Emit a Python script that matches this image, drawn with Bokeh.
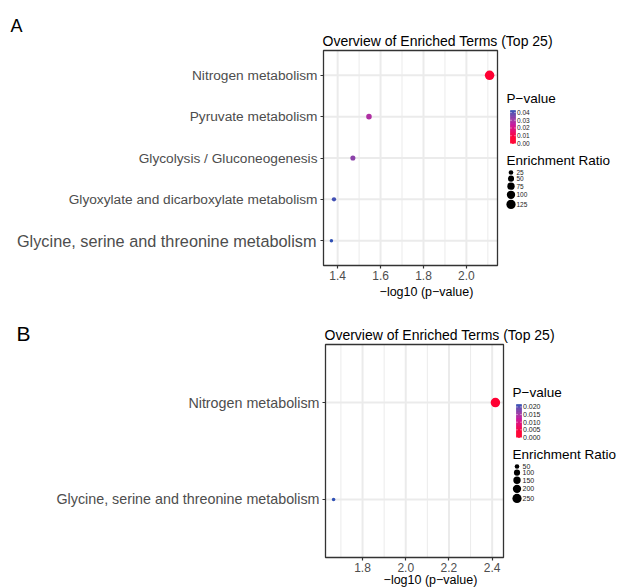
import numpy as np
from bokeh.plotting import figure
from bokeh.layouts import column
from bokeh.models import (Range1d, FixedTicker, BoxAnnotation, LinearColorMapper,
                          ColumnDataSource, PrintfTickFormatter)
from bokeh.core.properties import value
from bokeh.embed import file_html
from bokeh.resources import INLINE

FONT = "Liberation Sans"
TITLE = "Overview of Enriched Terms (Top 25)"
XLABEL = "\u2212log10 (p\u2212value)"

# ---------------- data: panel A ----------------
terms_a = ["Nitrogen metabolism", "Pyruvate metabolism", "Glycolysis / Gluconeogenesis",
           "Glyoxylate and dicarboxylate metabolism", "Glycine, serine and threonine metabolism"]
logp_a = [2.108, 1.546, 1.471, 1.383, 1.371]
ratio_a = [133, 40, 33, 22, 13]
xticks_a = [1.4, 1.6, 1.8, 2.0]
pbreaks_a = [0.00, 0.01, 0.02, 0.03, 0.04]
plabels_a = ["0.00", "0.01", "0.02", "0.03", "0.04"]
sbreaks_a = [25, 50, 75, 100, 125]

# ---------------- data: panel B ----------------
terms_b = ["Nitrogen metabolism", "Glycine, serine and threonine metabolism"]
logp_b = [2.415, 1.666]
ratio_b = [266, 25]
xticks_b = [1.8, 2.0, 2.2, 2.4]
pbreaks_b = [0.000, 0.005, 0.010, 0.015, 0.020]
plabels_b = ["0.000", "0.005", "0.010", "0.015", "0.020"]
sbreaks_b = [50, 100, 150, 200, 250]


# ---------------- colour helpers (Lab interpolation, like ggplot) ----------------
_M = np.array([[0.4124, 0.3576, 0.1805], [0.2126, 0.7152, 0.0722], [0.0193, 0.1192, 0.9505]])
_Mi = np.linalg.inv(_M)
_W = _M @ np.ones(3)


def _hex(h):
    return np.array([int(h[i:i + 2], 16) for i in (1, 3, 5)]) / 255.0


def _lin(c):
    return np.where(c <= 0.04045, c / 12.92, ((c + 0.055) / 1.055) ** 2.4)


def _gam(c):
    c = np.clip(c, 0, 1)
    return np.where(c <= 0.0031308, 12.92 * c, 1.055 * np.power(c, 1 / 2.4) - 0.055)


def _f(t):
    return np.where(t > (6 / 29) ** 3, np.cbrt(t), t / (3 * (6 / 29) ** 2) + 4 / 29)


def _finv(t):
    return np.where(t > 6 / 29, t ** 3, 3 * (6 / 29) ** 2 * (t - 4 / 29))


def _to_lab(h):
    fx, fy, fz = _f(_M @ _lin(_hex(h)) / _W)
    return np.array([116 * fy - 16, 500 * (fx - fy), 200 * (fy - fz)])


def _from_lab(lab):
    L, a, b = lab
    fy = (L + 16) / 116
    xyz = np.array([_finv(fy + a / 500), _finv(fy), _finv(fy - b / 200)]) * _W
    r, g, bb = (np.clip(_gam(_Mi @ xyz), 0, 1) * 255).round().astype(int)
    return f"#{r:02x}{g:02x}{bb:02x}"


def lab_palette(stops, n=256):
    labs = [_to_lab(s) for s in stops]
    out = []
    for t in np.linspace(0, 1, n):
        s = t * (len(stops) - 1)
        i = min(int(s), len(stops) - 2)
        u = s - i
        out.append(_from_lab(labs[i] + (labs[i + 1] - labs[i]) * u))
    return out


PALETTE = lab_palette(["#FF0033", "#C4189E", "#2F50B5"])


def build(letter, terms, logp, ratio, xticks, pbreaks, plabels, sbreaks, lay):
    n = len(terms)
    ypos = [float(n - i) for i in range(n)]          # first term on top
    y_lo, y_hi = 0.4, n + 0.6                        # discrete-axis expansion
    pval = [10 ** (-v) for v in logp]
    pmax = max(pval)
    span = max(logp) - min(logp)
    x_lo, x_hi = min(logp) - 0.05 * span, max(logp) + 0.05 * span

    W, H = lay["width"], lay["height"]
    L, R, T, B = lay["L"], lay["R"], lay["T"], lay["B"]   # data panel in canvas px
    kx = (x_hi - x_lo) / (R - L)
    ky = (y_hi - y_lo) / (B - T)

    p = figure(width=W, height=H, title=None,
               x_range=Range1d(x_lo - L * kx, x_lo + (W - L) * kx),
               y_range=Range1d(y_lo - (H - B) * ky, y_hi + T * ky),
               output_backend="svg", toolbar_location=None,
               min_border=0, min_border_left=0, min_border_right=0,
               min_border_top=0, min_border_bottom=0)
    p.outline_line_color = None
    p.background_fill_color = "white"
    p.border_fill_color = "white"
    p.grid.visible = False
    p.extra_x_ranges = {"px": Range1d(0, W)}
    p.extra_y_ranges = {"px": Range1d(H, 0)}

    # grid lines (panel only)
    step = xticks[1] - xticks[0]
    minor = [t + step / 2 for t in [xticks[0] - step] + xticks]
    minor = [m for m in minor if x_lo <= m <= x_hi]
    p.segment(x0=minor, x1=minor, y0=[y_lo] * len(minor), y1=[y_hi] * len(minor),
              line_color="#EBEBEB", line_width=1.0)
    p.segment(x0=xticks, x1=xticks, y0=[y_lo] * len(xticks), y1=[y_hi] * len(xticks),
              line_color="#EBEBEB", line_width=2.0)
    p.segment(x0=[x_lo] * n, x1=[x_hi] * n, y0=ypos, y1=ypos,
              line_color="#EBEBEB", line_width=2.0)

    # axes, anchored to the panel
    xa, ya = p.xaxis[0], p.yaxis[0]
    xa.fixed_location = y_lo
    xa.bounds = (x_lo, x_hi)
    xa.ticker = FixedTicker(ticks=xticks, minor_ticks=[])
    xa.formatter = PrintfTickFormatter(format="%.1f")
    ya.fixed_location = x_lo
    ya.bounds = (y_lo, y_hi)
    ya.ticker = FixedTicker(ticks=ypos, minor_ticks=[])
    overrides = {y: t for y, t in zip(ypos, terms)}
    big = lay.get("big_label")
    if big:
        overrides[ypos[terms.index(big)]] = ""
    ya.major_label_overrides = overrides
    for ax in (xa, ya):
        ax.axis_line_color = None
        ax.major_tick_line_color = "#333333"
        ax.major_tick_line_width = 1.2
        ax.major_tick_out = 3
        ax.major_tick_in = 0
        ax.minor_tick_line_color = None
        ax.major_label_text_font = FONT
        ax.major_label_text_color = "#4D4D4D"
    xa.major_label_standoff = 2
    ya.major_label_standoff = 3
    xa.major_label_text_font_size = lay["xtick_fs"]
    ya.major_label_text_font_size = lay["ytick_fs"]

    # panel border
    p.add_layout(BoxAnnotation(left=x_lo, right=x_hi, bottom=y_lo, top=y_hi,
                               fill_alpha=0, line_alpha=1.0,
                               line_color="#333333", line_width=1.3))

    # points
    sq = np.sqrt
    sizes_fn = lambda v: 3.5 + 6.0 * (sq(v) - sq(min(ratio))) / (sq(max(ratio)) - sq(min(ratio)))
    mapper = LinearColorMapper(palette=PALETTE, low=min(pval), high=pmax)
    src = ColumnDataSource(dict(y=ypos, logp=logp, p=pval,
                                size=[sizes_fn(v) for v in ratio]))
    p.scatter("logp", "y", size="size", source=src, line_color=None,
              fill_color={"field": "p", "transform": mapper})

    # ---------------- texts in canvas pixel coordinates ----------------
    tkw = dict(x_range_name="px", y_range_name="px", text_font=value(FONT),
               text_baseline="middle", text_align="left")
    if big:
        p.text(x=[L - 7], y=[ypos[terms.index(big)]], text=[big], text_align="right",
               text_baseline="middle", text_font=value(FONT), x_range_name="px",
               text_font_size=value(lay["big_fs"]), text_color="#4D4D4D")
    p.text(x=[L - 1], y=[T - 10], text=[TITLE], text_font_size=value(lay["title_fs"]),
           text_color="black", **tkw)
    p.text(x=[lay["letter_x"]], y=[lay["letter_y"]], text=[letter],
           text_font_size=value(lay["letter_fs"]), text_color="black", **tkw)
    p.text(x=[(L + R) / 2 + 16], y=[B + lay["xlab_dy"]], text=[XLABEL],
           text_font_size=value("12.5px"), text_color="black",
           **{**tkw, "text_align": "center"})

    # ---------------- legends ----------------
    p.text(x=[R + 9], y=[T + 48], text=["P\u2212value"], text_font_size=value("13.5px"),
           text_color="black", **tkw)
    bar_top, bar_bot = T + 60, T + 93
    vals = np.linspace(0, pmax, 41)
    ys = bar_bot - vals / pmax * (bar_bot - bar_top)
    mids = (vals[:-1] + vals[1:]) / 2
    bsrc = ColumnDataSource(dict(bottom=ys[:-1], top=ys[1:], v=mids))
    cmap = {"field": "v", "transform": mapper}
    p.quad(left=R + 13, right=R + 18, bottom="bottom", top="top", source=bsrc,
           fill_color=cmap, line_color=cmap, line_width=0.6,
           x_range_name="px", y_range_name="px")
    by = [bar_bot - b / pmax * (bar_bot - bar_top) for b in pbreaks]
    p.segment(x0=[R + 13] * len(by), x1=[R + 14] * len(by), y0=by, y1=by,
              line_color="white", line_width=0.8, x_range_name="px", y_range_name="px")
    p.segment(x0=[R + 17] * len(by), x1=[R + 18] * len(by), y0=by, y1=by,
              line_color="white", line_width=0.8, x_range_name="px", y_range_name="px")
    p.text(x=[R + 19.5] * len(by), y=by, text=plabels, text_font_size=value(lay["leg_fs"]),
           text_color="#1A1A1A", **tkw)

    p.text(x=[R + 9], y=[T + 110], text=["Enrichment Ratio"], text_font_size=value("13.5px"),
           text_color="black", **tkw)
    ds = [sizes_fn(v) for v in sbreaks]
    dy = [T + 122.0]
    for i in range(1, len(ds)):
        dy.append(dy[-1] + (ds[i - 1] + ds[i]) / 2 + 0.8)
    p.scatter(x=[R + 13.5] * len(ds), y=dy, size=ds, fill_color="black", line_color=None,
              x_range_name="px", y_range_name="px")
    p.text(x=[R + 19] * len(ds), y=dy, text=[str(s) for s in sbreaks],
           text_font_size=value(lay["leg_fs"]), text_color="#1A1A1A", **tkw)
    return p


lay_a = dict(width=624, height=300, L=323, R=497, T=50, B=265,
             title_fs="14px", xtick_fs="12px", ytick_fs="13.7px",
             big_label="Glycine, serine and threonine metabolism", big_fs="16.3px",
             letter_x=10, letter_y=25, letter_fs="18px", leg_fs="6.5px", xlab_dy=26)
lay_b = dict(width=624, height=288, L=325, R=503, T=44, B=257,
             title_fs="14px", xtick_fs="12px", ytick_fs="14.3px",
             letter_x=16, letter_y=33, letter_fs="21px", leg_fs="7px", xlab_dy=22)

pa = build("A", terms_a, logp_a, ratio_a, xticks_a, pbreaks_a, plabels_a, sbreaks_a, lay_a)
pb = build("B", terms_b, logp_b, ratio_b, xticks_b, pbreaks_b, plabels_b, sbreaks_b, lay_b)

layout = column(pa, pb, spacing=0)
open("out.html", "w").write(file_html(layout, INLINE))
